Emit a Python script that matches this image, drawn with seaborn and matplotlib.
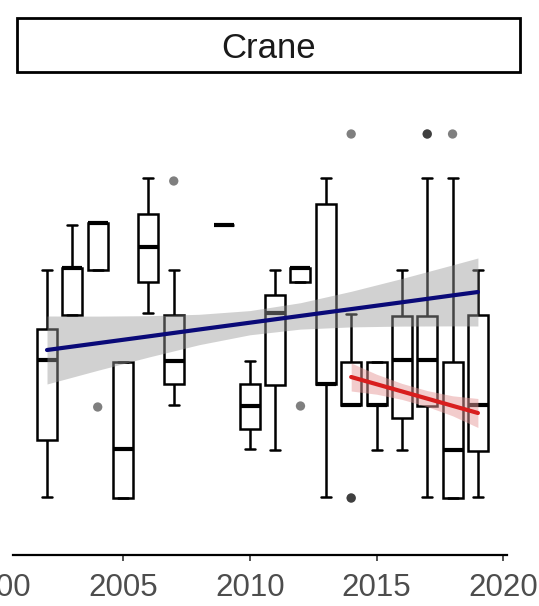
import numpy as np
import pandas as pd
import matplotlib
matplotlib.use("Agg")
import matplotlib.pyplot as plt
from matplotlib.patches import Rectangle
from matplotlib import font_manager
import seaborn as sns

# ---- data ----
panel_title = "Crane"
box_x = [2002, 2003, 2004, 2005, 2006, 2007, 2009, 2010, 2011,
         2012, 2013, 2014, 2015, 2016, 2017, 2018, 2019]
whisker_lo = [1.3, 19.5, 24.0, 1.2, 19.7, 10.5, 28.5, 6.1, 6.0, 22.8, 1.3, 10.5, 6.0, 6.0, 1.3, 1.2, 1.3]
q1         = [7.0, 19.5, 24.0, 1.2, 22.8, 12.6, 28.5, 8.1, 12.5, 22.8, 12.6, 10.5, 10.5, 9.2, 10.4, 1.2, 5.9]
median     = [15.0, 24.2, 28.7, 6.1, 26.3, 14.9, 28.5, 10.4, 19.7, 24.2, 12.6, 10.5, 10.5, 15.0, 15.0, 6.0, 10.5]
q3         = [18.1, 24.2, 28.7, 14.8, 29.6, 19.5, 28.5, 12.6, 21.5, 24.2, 30.6, 14.8, 14.8, 19.4, 19.4, 14.8, 19.5]
whisker_hi = [24.0, 28.5, 28.7, 14.8, 33.2, 24.0, 28.5, 14.9, 24.0, 24.2, 33.2, 19.6, 14.8, 24.0, 33.2, 33.2, 24.0]

outlier_x = [2004, 2007, 2012, 2014, 2014, 2014, 2017, 2017, 2018]
outlier_y = [10.3, 32.9, 10.4, 37.6, 1.2, 1.2, 37.6, 37.6, 37.6]

# overall trend (blue) with confidence band
trend_x  = [2002, 2004, 2006, 2008, 2010, 2012, 2014, 2016, 2018, 2019]
trend_y  = [16.0, 16.68, 17.36, 18.05, 18.73, 19.41, 20.09, 20.77, 21.46, 21.8]
trend_lo = [12.6, 13.97, 15.29, 16.53, 17.52, 18.09, 18.31, 18.39, 18.41, 18.4]
trend_hi = [19.4, 19.39, 19.43, 19.57, 19.94, 20.73, 21.87, 23.15, 24.51, 25.2]

# recent trend (red) with confidence band
recent_x  = [2014, 2015, 2016, 2017, 2018, 2019]
recent_y  = [13.3, 12.58, 11.86, 11.14, 10.42, 9.7]
recent_lo = [11.9, 11.58, 11.06, 10.34, 9.42, 8.25]
recent_hi = [14.7, 13.58, 12.66, 11.94, 11.42, 11.15]

x_ticks = [2000, 2005, 2010, 2015, 2020]

# ---- build long-form table for seaborn (5 values give exact quartiles) ----
rows = []
for i, x in enumerate(box_x):
    for v in (whisker_lo[i], q1[i], median[i], q3[i], whisker_hi[i]):
        rows.append({"year": x, "value": v})
df = pd.DataFrame(rows)

sns.set_theme(style="white")
available = {f.name for f in font_manager.fontManager.ttflist}
if "Liberation Sans Narrow" in available:
    fam, tick_fs, strip_fs = "Liberation Sans Narrow", 27, 29
else:
    fam, tick_fs, strip_fs = "Liberation Sans", 22.5, 25
plt.rcParams["font.family"] = [fam, "DejaVu Sans"]

W, H = 539, 606
fig = plt.figure(figsize=(W / 100, H / 100), dpi=100)

# axes placed so that the 2000 label is cut at the left edge as in the reference
ax_left_px, ax_right_px = -27, 539
ax_bottom_px, ax_top_px = 555, 80
ax = fig.add_axes([ax_left_px / W, (H - ax_bottom_px) / H,
                   (ax_right_px - ax_left_px) / W, (ax_bottom_px - ax_top_px) / H])

sns.boxplot(data=df, x="year", y="value", orient="x", native_scale=True,
            whis=(0, 100), width=0.79, color="white", linecolor="black",
            linewidth=1.8, showfliers=False, ax=ax,
            medianprops=dict(linewidth=3.0, color="black"))

# confidence bands and fitted lines
ax.fill_between(trend_x, trend_lo, trend_hi, color="#9a9a9a", alpha=0.45,
                linewidth=0, zorder=4)
sns.lineplot(x=trend_x, y=trend_y, color="#0a0a78", linewidth=3.0, ax=ax, zorder=5)
ax.fill_between(recent_x, recent_lo, recent_hi, color="#e79a9a", alpha=0.5,
                linewidth=0, zorder=4)
sns.lineplot(x=recent_x, y=recent_y, color="#d81e1e", linewidth=3.0, ax=ax, zorder=5)

sns.scatterplot(x=outlier_x, y=outlier_y, color="black", alpha=0.5, s=45,
                edgecolor="none", ax=ax, zorder=6)

ax.set_xlim(1999.08, 2021.41)
ax.set_ylim(-4.5, 43.0)
ax.set_xticks(x_ticks)
ax.set_xticklabels([str(t) for t in x_ticks])
ax.set_yticks([])
ax.set_xlabel("")
ax.set_ylabel("")
for s in ("left", "top", "right"):
    ax.spines[s].set_visible(False)
ax.spines["bottom"].set_bounds(2000.66, 2020.15)
ax.spines["bottom"].set_color("black")
ax.spines["bottom"].set_linewidth(1.6)
ax.tick_params(axis="x", length=4.5, width=1.2, color="#333333", pad=8.5,
               labelsize=tick_fs, labelcolor="#4d4d4d", bottom=True)
ax.patch.set_alpha(0)

# facet strip
sx0, sx1, sy0, sy1 = 17, 520, 18, 72
fig.patches.append(Rectangle((sx0 / W, (H - sy1) / H), (sx1 - sx0) / W, (sy1 - sy0) / H,
                             transform=fig.transFigure, facecolor="white",
                             edgecolor="black", linewidth=2.0))
fig.text((sx0 + sx1) / 2 / W, (H - (sy0 + sy1) / 2 - 3) / H, panel_title,
         ha="center", va="center", fontsize=strip_fs, color="#1a1a1a")

fig.savefig("out.png", dpi=100)
